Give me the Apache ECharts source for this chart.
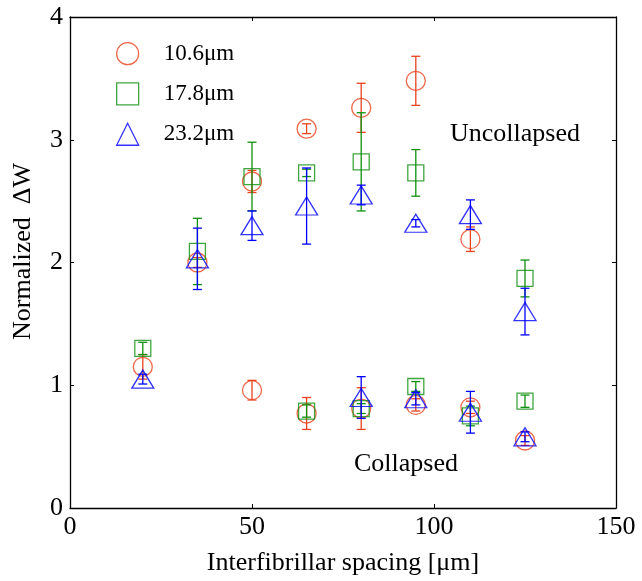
<!DOCTYPE html>
<html>
<head>
<meta charset="utf-8">
<script src="https://cdn.jsdelivr.net/npm/echarts@6/dist/echarts.min.js"></script>
<style>
  html, body { margin: 0; padding: 0; background: #fff; }
  #chart { width: 642px; height: 581px; }
</style>
</head>
<body>
<div id="chart"></div>
<script>
// Fibril diameters shown in the legend
const seriesNames = ['10.6\u03bcm', '17.8\u03bcm', '23.2\u03bcm'];

// 10.6 µm fibrils: spacing, normalized ΔW, error half-width
const spacing106 = [20, 35, 50, 50, 65, 65, 80, 80, 95, 95, 110, 110, 125];
const mean106    = [1.15, 2.00, 2.66, 0.96, 3.09, 0.77, 3.26, 0.81, 3.48, 0.84, 2.19, 0.82, 0.55];
const err106     = [0.10, 0.04, 0.09, 0.08, 0.04, 0.13, 0.20, 0.17, 0.20, 0.05, 0.10, 0.05, 0.04];

// 17.8 µm fibrils
const spacing178 = [20, 35, 50, 65, 65, 80, 80, 95, 95, 110, 125, 125];
const mean178    = [1.30, 2.09, 2.70, 2.73, 0.79, 2.82, 0.81, 2.73, 0.99, 0.75, 1.87, 0.87];
const err178     = [0.05, 0.27, 0.28, 0.03, 0.05, 0.40, 0.04, 0.19, 0.04, 0.08, 0.15, 0.05];

// 23.2 µm fibrils
const spacing232 = [20, 35, 50, 65, 80, 80, 95, 95, 110, 110, 125, 125];
const mean232    = [1.05, 2.03, 2.30, 2.46, 2.55, 0.90, 2.32, 0.89, 2.39, 0.78, 1.60, 0.58];
const err232     = [0.04, 0.25, 0.12, 0.31, 0.08, 0.17, 0.03, 0.05, 0.12, 0.17, 0.19, 0.04];

// Axis ticks
const xTicks = [0, 50, 100, 150];
const yTicks = [0, 1, 2, 3, 4];

const colors = ['#e8431e', '#0f900f', '#0000ff'];
const symbols = ['circle', 'rect', 'triangle'];
const symbolSizes = [19, 16, [22, 18]];

const groups = [
  [spacing106, mean106, err106],
  [spacing178, mean178, err178],
  [spacing232, mean232, err232]
];

const FONT = '"Liberation Serif", "Times New Roman", serif';

function errorBarSeries(idx) {
  const [xs, ys, es] = groups[idx];
  const data = xs.map((x, i) => [x, ys[i] - es[i], ys[i] + es[i]]);
  return {
    type: 'custom',
    name: seriesNames[idx] + ' error',
    z: 2 + idx * 2,
    silent: true,
    renderItem: function (params, api) {
      const lo = api.coord([api.value(0), api.value(1)]);
      const hi = api.coord([api.value(0), api.value(2)]);
      const cap = 4.5;
      const style = { stroke: colors[idx], lineWidth: 1.3, fill: null };
      return {
        type: 'group',
        children: [
          { type: 'line', shape: { x1: hi[0], y1: hi[1], x2: lo[0], y2: lo[1] }, style: style },
          { type: 'line', shape: { x1: hi[0] - cap, y1: hi[1], x2: hi[0] + cap, y2: hi[1] }, style: style },
          { type: 'line', shape: { x1: lo[0] - cap, y1: lo[1], x2: lo[0] + cap, y2: lo[1] }, style: style }
        ]
      };
    },
    encode: { x: 0, y: [1, 2] },
    data: data
  };
}

function markerSeries(idx) {
  const [xs, ys] = groups[idx];
  return {
    type: 'scatter',
    name: seriesNames[idx],
    z: 3 + idx * 2,
    symbol: symbols[idx],
    symbolSize: symbolSizes[idx],
    itemStyle: { color: 'rgba(0,0,0,0)', borderColor: colors[idx], borderWidth: 1.3 },
    data: xs.map((x, i) => [x, ys[i]])
  };
}

const series = [];
for (let i = 0; i < 3; i++) {
  series.push(errorBarSeries(i));
  series.push(markerSeries(i));
}

const axisCommon = {
  min: 0,
  axisLine: { show: true, onZero: false, lineStyle: { color: '#000', width: 1.3 } },
  axisTick: { show: true, inside: true, length: 4, lineStyle: { color: '#000', width: 1 } },
  splitLine: { show: false }
};

const chart = echarts.init(document.getElementById('chart'), null, { renderer: 'canvas' });
chart.setOption({
  backgroundColor: '#fff',
  animation: false,
  grid: { left: 70, right: 26, top: 17, bottom: 73, containLabel: false },
  legend: {
    orient: 'vertical',
    left: 111,
    top: 37,
    itemGap: 17,
    itemWidth: 22,
    itemHeight: 22,
    data: seriesNames.map((n, i) => ({
      name: n,
      icon: symbols[i],
      itemStyle: { color: 'rgba(0,0,0,0)', borderColor: colors[i], borderWidth: 1.3 }
    })),
    textStyle: { fontFamily: FONT, fontSize: 23, color: '#000', padding: [0, 0, 0, 20] },
    selectedMode: false
  },
  xAxis: [
    Object.assign({}, axisCommon, {
      type: 'value', max: 150, interval: 50, position: 'bottom',
      name: 'Interfibrillar spacing [\u03bcm]', nameLocation: 'middle', nameGap: 42,
      nameTextStyle: { fontFamily: FONT, fontSize: 26, color: '#000' },
      axisLabel: { fontFamily: FONT, fontSize: 26, color: '#000', margin: 6,
        formatter: v => xTicks.includes(v) ? String(v) : '' }
    }),
    Object.assign({}, axisCommon, {
      type: 'value', max: 150, interval: 50, position: 'top', axisLabel: { show: false }
    })
  ],
  yAxis: [
    Object.assign({}, axisCommon, {
      type: 'value', max: 4, interval: 1, position: 'left',
      name: 'Normalized  \u0394W', nameLocation: 'middle', nameGap: 34,
      nameTextStyle: { fontFamily: FONT, fontSize: 26, color: '#000', padding: [0, 0, 0, 22] },
      axisLabel: { fontFamily: FONT, fontSize: 26, color: '#000', margin: 7,
        formatter: v => yTicks.includes(v) ? String(v) : '' }
    }),
    Object.assign({}, axisCommon, {
      type: 'value', max: 4, interval: 1, position: 'right', axisLabel: { show: false }
    })
  ],
  graphic: [
    { type: 'text', left: 450, top: 121,
      style: { text: 'Uncollapsed', font: '26px ' + FONT, fill: '#000' } },
    { type: 'text', left: 354, top: 451,
      style: { text: 'Collapsed', font: '26px ' + FONT, fill: '#000' } }
  ],
  series: series
});
</script>
</body>
</html>
